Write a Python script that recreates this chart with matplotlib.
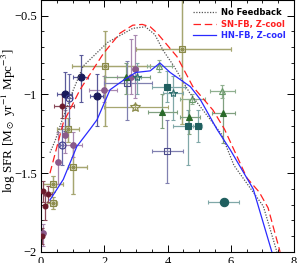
import matplotlib
matplotlib.use("Agg")
import matplotlib.pyplot as plt
import numpy as np
from matplotlib.ticker import MultipleLocator, FuncFormatter

# model curves: redshift vs log SFR density
z_nofb = [0.28, 0.45, 0.6, 1.0, 1.33, 2.1, 2.9, 3.3, 3.6, 3.86, 4.2, 4.7, 5.2, 5.7, 6.1, 6.6, 7.03, 7.46]
sfr_nofb = [-1.37, -1.29, -1.2, -0.98, -0.82, -0.67, -0.58, -0.57, -0.62, -0.72, -0.82, -0.99, -1.12, -1.25, -1.45, -1.59, -1.71, -2.0]

z_sn = [0.28, 0.7, 1.23, 1.97, 2.5, 2.9, 3.2, 3.45, 3.67, 4.3, 4.8, 5.44, 5.8, 6.51, 6.9, 7.18, 7.56]
sfr_sn = [-1.5, -1.18, -0.97, -0.74, -0.61, -0.56, -0.555, -0.57, -0.61, -0.76, -0.95, -1.1, -1.22, -1.53, -1.62, -1.72, -2.0]

z_hn = [0.28, 0.7, 1.13, 1.55, 1.77, 2.18, 2.6, 3.0, 3.45, 3.76, 4.08, 4.72, 5.03, 5.56, 5.98, 6.71, 7.3]
sfr_hn = [-1.67, -1.54, -1.33, -1.22, -1.16, -0.97, -0.91, -0.86, -0.85, -0.80, -0.86, -0.95, -1.03, -1.22, -1.35, -1.6, -2.0]

# observational points: z, log SFR, x-range (lo, hi), y-range (lo, hi)
navy_z = [1.26, 0.76, 1.77]
navy_y = [-0.89, -1.0, -1.01]
navy_x = [(1.0, 1.49), (0.5, 0.98), (1.55, 1.97)]
navy_e = [(-1.05, -0.75), (-1.23, -0.86), (-1.2, -0.87)]

navyo_z = [0.89, 0.65]
navyo_y = [-1.02, -1.32]
navyo_x = [(0.8, 0.98), (0.6, 0.7)]
navyo_e = [(-1.2, -0.87), (-1.45, -1.2)]

navysq_z = [2.72, 3.99]
navysq_y = [-0.93, -1.36]
navysq_x = [(2.0, 3.5), (3.5, 4.5)]
navysq_e = [(-1.16, -0.79), (-1.56, -1.16)]

maroon_z = [0.65, 0.06, 0.22, 0.13, 0.03]
maroon_y = [-1.07, -1.61, -1.63, -1.71, -1.90]
maroon_x = [(0.4, 1.05), (0.0, 0.1), (0.1, 0.35), (0.08, 0.18), (0.0, 0.06)]
maroon_e = [(-1.15, -1.0), (-1.68, -1.55), (-1.68, -1.58), (-1.8, -1.63), (-1.95, -1.85)]

purple_z = [0.76, 0.54, 2.0, 2.97, 1.0, 0.06, 2.85]
purple_y = [-1.26, -1.43, -0.97, -0.84, -1.32, -1.88, -0.89]
purple_x = [(0.7, 0.82), (0.48, 0.6), (1.5, 2.4), (2.9, 3.05), (0.65, 1.3), (0.0, 0.1), (2.4, 3.0)]
purple_e = [(-1.37, -1.1), (-1.57, -1.24), (-1.05, -0.88), (-1.02, -0.62), (-1.4, -1.24), (-1.96, -1.82), (-1.0, -0.65)]

olive_z = [2.03, 4.46, 1.01, 0.38, 0.38, 0.85]
olive_y = [-0.82, -0.71, -1.46, -1.57, -1.69, -1.22]
olive_x = [(0.98, 3.45), (3.0, 6.0), (0.85, 1.46), (0.06, 0.7), (0.2, 0.5), (0.5, 1.2)]
olive_e = [(-1.2, -0.6), (-1.19, -0.3), (-1.63, -1.31), (-1.62, -1.52), (-1.73, -1.65), (-1.3, -1.15)]

star_z = [2.98]
star_y = [-1.08]
star_x = [(2.0, 4.0)]
star_e = [(-1.1, -1.06)]

teal_z = [3.99, 4.65, 4.97]
teal_y = [-0.95, -1.2, -1.2]
teal_x = [(3.5, 4.56), (4.18, 5.03), (4.8, 5.1)]
teal_e = [(-1.05, -0.85), (-1.45, -1.1), (-1.3, -1.1)]

tealst_z = [4.18, 3.03]
tealst_y = [-0.99, -0.89]
tealst_x = [(3.86, 4.5), (2.9, 3.15)]
tealst_e = [(-1.16, -0.88), (-1.0, -0.8)]

tealc_z = [5.79]
tealc_y = [-1.68]
tealc_x = [(5.28, 6.27)]
tealc_e = [(-1.69, -1.67)]

green_z = [2.69, 3.83, 4.68, 5.76]
green_y = [-0.89, -1.11, -1.14, -1.12]
green_x = [(2.0, 3.45), (3.39, 4.3), (4.4, 5.03), (5.4, 6.14)]
green_e = [(-1.0, -0.8), (-1.21, -1.0), (-1.25, -1.03), (-1.31, -0.98)]

greeno_z = [3.73, 4.78, 5.73]
greeno_y = [-0.82, -1.03, -0.98]
greeno_x = [(3.35, 4.15), (4.4, 5.2), (5.35, 6.14)]
greeno_e = [(-0.86, -0.78), (-1.06, -1.0), (-1.02, -0.94)]


def draw(ax, z, y, xr, yr, marker, color, ecolor, filled=True, ms=4.5):
    z = np.array(z)
    y = np.array(y)
    xr = np.array(xr)
    yr = np.array(yr)
    xerr = [z - xr[:, 0], xr[:, 1] - z]
    yerr = [y - yr[:, 0], yr[:, 1] - y]
    ax.errorbar(z, y, xerr=xerr, yerr=yerr, fmt="none", ecolor=ecolor,
                elinewidth=0.9, capsize=1.5, capthick=0.8, zorder=2)
    ax.plot(z, y, linestyle="none", marker=marker, markersize=ms,
            markerfacecolor=color if filled else "none", markeredgecolor=color,
            markeredgewidth=0.8, zorder=3)


plt.rcParams["font.family"] = "Liberation Serif"
plt.rcParams["mathtext.fontset"] = "stix"

fig = plt.figure(figsize=(3.0, 2.63), dpi=100)
ax = fig.add_axes([0.137, 0.042, 0.843, 0.958])

ax.plot(z_nofb, sfr_nofb, color="#555555", linestyle=(0, (1, 1.2)), linewidth=0.9, label="No Feedback", zorder=4)
ax.plot(z_sn, sfr_sn, color="#ff2020", linestyle=(0, (6, 3)), linewidth=0.9, label="SN-FB, Z-cool", zorder=4)
ax.plot(z_hn, sfr_hn, color="#2a2aff", linestyle="-", linewidth=0.9, label="HN-FB, Z-cool", zorder=4)

draw(ax, olive_z, olive_y, olive_x, olive_e, "s", "#8a8a4a", "#a6a670", filled=False, ms=4)
draw(ax, olive_z, olive_y, olive_x, olive_e, "x", "#8a8a4a", "#a6a670", ms=3)
draw(ax, star_z, star_y, star_x, star_e, "*", "#8a8a4a", "#a6a670", filled=False, ms=7)
draw(ax, purple_z, purple_y, purple_x, purple_e, "o", "#8a5a8a", "#a888b0", ms=4)
draw(ax, navy_z, navy_y, navy_x, navy_e, "o", "#1a1a5a", "#5a5a9a", ms=5)
draw(ax, navyo_z, navyo_y, navyo_x, navyo_e, "o", "#3a3a8a", "#6a6aa8", filled=False, ms=5)
draw(ax, navysq_z, navysq_y, navysq_x, navysq_e, "s", "#4a4a8a", "#8080b0", filled=False, ms=4.5)
draw(ax, maroon_z, maroon_y, maroon_x, maroon_e, "o", "#6a1a2a", "#8a4a5a", ms=3.5)
draw(ax, teal_z, teal_y, teal_x, teal_e, "s", "#1f5f5f", "#80a8a8", ms=4.5)
draw(ax, tealst_z, tealst_y, tealst_x, tealst_e, "*", "#2f6f6f", "#80a8a8", filled=False, ms=6)
draw(ax, tealc_z, tealc_y, tealc_x, tealc_e, "o", "#1f5f5f", "#80a8a8", ms=6)
draw(ax, green_z, green_y, green_x, green_e, "^", "#2a6a2a", "#80a080", ms=4.5)
draw(ax, greeno_z, greeno_y, greeno_x, greeno_e, "^", "#6a9a6a", "#90b090", filled=False, ms=5)

ax.set_xlim(0, 8)
ax.set_ylim(-2, -0.4)
ax.xaxis.set_major_locator(MultipleLocator(2))
ax.xaxis.set_minor_locator(MultipleLocator(0.5))
ax.yaxis.set_major_locator(MultipleLocator(0.5))
ax.yaxis.set_minor_locator(MultipleLocator(0.1))
ax.yaxis.set_major_formatter(FuncFormatter(lambda v, p: f"{v:g}".replace("-", "\u2212")))
ax.tick_params(which="both", direction="in", top=True, right=True, labelsize=9, pad=3)
ax.tick_params(which="major", length=5, width=0.7)
ax.tick_params(which="minor", length=2.5, width=0.6)
for s in ax.spines.values():
    s.set_linewidth(0.8)

ax.set_ylabel(r"log SFR [M$_\odot$ yr$^{-1}$ Mpc$^{-3}$]", fontsize=9.5, labelpad=0)
ax.yaxis.set_label_coords(-0.09, 0.52)

leg = ax.legend(loc="upper right", frameon=False, handlelength=2.8,
                handletextpad=0.6, labelspacing=0.3, borderaxespad=0.6,
                prop={"family": "DejaVu Sans", "weight": "bold", "size": 6})
for txt, ln in zip(leg.get_texts(), leg.get_lines()):
    txt.set_color(ln.get_color() if ln.get_color() != "#555555" else "black")

fig.savefig("out.png", dpi=100)
